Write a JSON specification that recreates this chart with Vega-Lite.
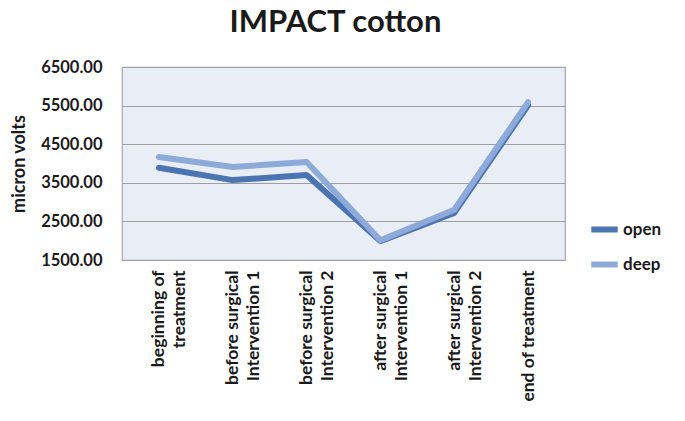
{
  "$schema": "https://vega.github.io/schema/vega-lite/v6.json",
  "autosize": "none",
  "width": 443,
  "height": 193,
  "padding": {"left": 122, "top": 67, "right": 120, "bottom": 161},
  "background": "white",
  "title": {"text": "IMPACT cotton", "fontSize": 31, "font": "Lato", "fontWeight": "bold", "color": "#1a1a1a", "anchor": "middle", "offset": 20, "dx": -8},
  "config": {
    "view": {"fill": "#e9edf5", "stroke": "#a8a8a8", "strokeWidth": 1.2},
    "font": "Lato"
  },
  "data": {"values": [
    {"stage": "beginning of|treatment", "series": "open", "value": 3890},
    {"stage": "before surgical|Intervention 1", "series": "open", "value": 3570},
    {"stage": "before surgical|Intervention 2", "series": "open", "value": 3700},
    {"stage": "after surgical|Intervention 1", "series": "open", "value": 1990},
    {"stage": "after surgical|Intervention 2", "series": "open", "value": 2720},
    {"stage": "end of treatment", "series": "open", "value": 5510},
    {"stage": "beginning of|treatment", "series": "deep", "value": 4170},
    {"stage": "before surgical|Intervention 1", "series": "deep", "value": 3910},
    {"stage": "before surgical|Intervention 2", "series": "deep", "value": 4040},
    {"stage": "after surgical|Intervention 1", "series": "deep", "value": 2010},
    {"stage": "after surgical|Intervention 2", "series": "deep", "value": 2800},
    {"stage": "end of treatment", "series": "deep", "value": 5590}
  ]},
  "mark": {"type": "line", "strokeWidth": 6, "strokeCap": "round", "strokeJoin": "round"},
  "encoding": {
    "x": {
      "field": "stage", "type": "nominal", "sort": null,
      "scale": {"type": "point", "padding": 0.5},
      "axis": {
        "title": null, "labelAngle": -90, "labelExpr": "split(datum.label, '|')",
        "labelFontSize": 17.5, "labelColor": "#1a1a1a", "labelFontWeight": "bold",
        "ticks": false, "domain": false, "labelPadding": 10, "labelLineHeight": 21
      }
    },
    "y": {
      "field": "value", "type": "quantitative",
      "scale": {"domain": [1500, 6500], "nice": false},
      "axis": {
        "title": "micron volts", "titleFontSize": 18, "titleFontWeight": "bold", "titleColor": "#1a1a1a",
        "titlePadding": 12,
        "values": [1500, 2500, 3500, 4500, 5500, 6500], "format": ".2f",
        "labelFontSize": 16.5, "labelFontWeight": "bold", "labelColor": "#1a1a1a",
        "ticks": false, "domain": false, "labelPadding": 20,
        "gridColor": "#a0a0a0", "gridWidth": 1.2
      }
    },
    "color": {
      "field": "series", "type": "nominal",
      "scale": {"domain": ["open", "deep"], "range": ["#4a74b2", "#8eaad8"]},
      "legend": {
        "title": null, "orient": "none", "legendX": 466, "legendY": 146,
        "symbolType": "stroke", "symbolStrokeWidth": 6, "symbolSize": 700,
        "labelFontSize": 17, "labelFontWeight": "bold", "labelColor": "#1a1a1a",
        "rowPadding": 6, "labelOffset": 2
      }
    }
  }
}
